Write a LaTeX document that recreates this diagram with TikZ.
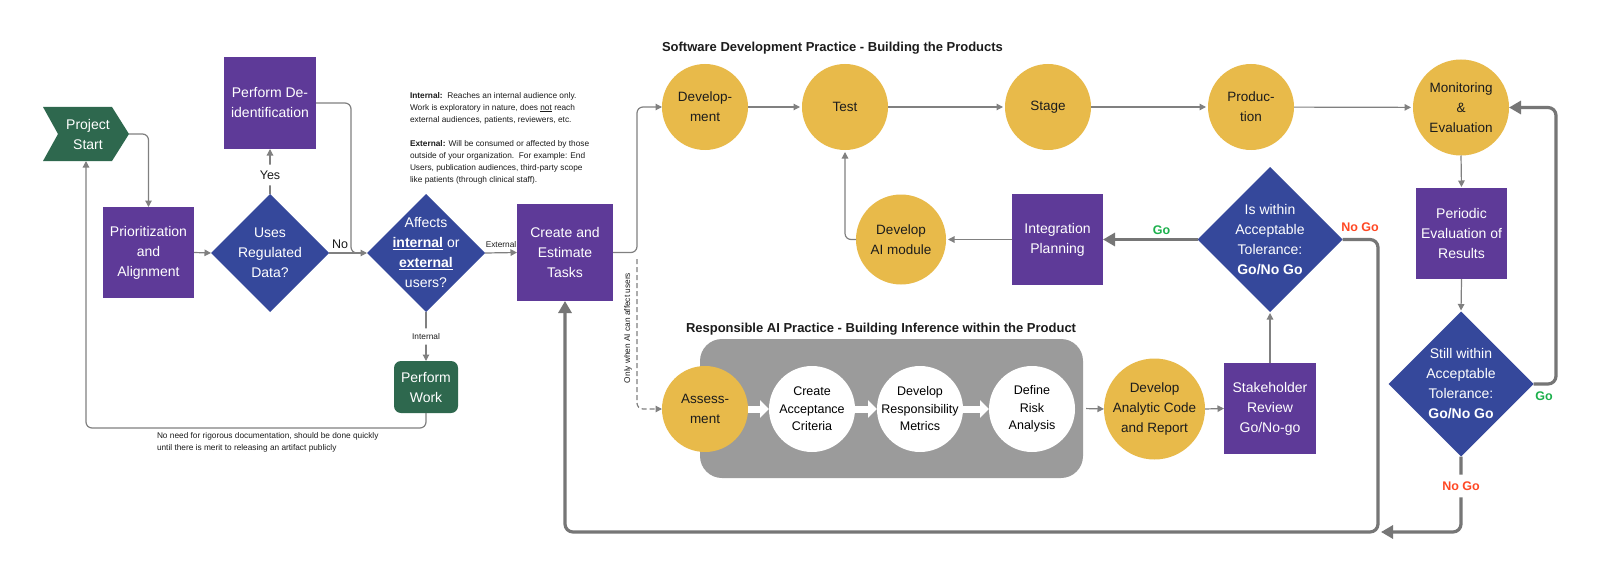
\documentclass[tikz,border=0pt]{standalone}
\usepackage{fontspec}
\setmainfont{Liberation Sans}
\usetikzlibrary{shapes.geometric,arrows.meta,calc}
\definecolor{purpC}{RGB}{94,58,152}
\definecolor{blueC}{RGB}{53,72,155}
\definecolor{greenC}{RGB}{46,104,78}
\definecolor{yelC}{RGB}{232,186,74}
\definecolor{gboxC}{RGB}{155,155,155}
\definecolor{lineC}{RGB}{128,128,128}
\definecolor{bigC}{RGB}{118,118,118}
\definecolor{goC}{RGB}{28,176,76}
\definecolor{nogoC}{RGB}{255,72,36}
\definecolor{txtC}{RGB}{28,28,28}
\begin{document}
\begin{tikzpicture}[x=1pt,y=-1pt,
  every node/.style={inner sep=0pt, outer sep=0pt},
  pbox/.style={fill=purpC, text=white, align=center, font=\fontsize{14}{20}\selectfont},
  wtxt/.style={text=white, align=center, font=\fontsize{14}{20}\selectfont},
  ctxt/.style={text=txtC, align=center, font=\fontsize{13.5}{20}\selectfont},
  stxt/.style={text=black, align=center, font=\fontsize{12.5}{17.5}\selectfont},
  circ/.style={circle, fill=yelC},
  wcirc/.style={circle, fill=white, minimum size=86pt},
  dia/.style={diamond, fill=blueC},
  lbl/.style={text=txtC, font=\fontsize{12.5}{15}\selectfont},
  small/.style={text=txtC, font=\fontsize{8.3}{12}\selectfont},
  ttl/.style={text=txtC, font=\bfseries\fontsize{13}{16}\selectfont},
  golbl/.style={text=goC, font=\bfseries\fontsize{12.5}{15}\selectfont},
  nogolbl/.style={text=nogoC, font=\bfseries\fontsize{12.5}{15}\selectfont},
  conn/.style={draw=lineC, line width=1.2pt, -{Triangle[length=6.5pt,width=6.5pt]}, rounded corners=6pt},
  bigconn/.style={draw=bigC, line width=3.2pt, -{Triangle[length=12pt,width=13pt]}, rounded corners=8pt},
  warr/.style={draw=white, line width=7pt, -{Triangle[length=9pt,width=17pt]}}
]
\fill[white] (0,0) rectangle (1600,583);
\useasboundingbox (0,0) rectangle (1600,583);

% ---------- left part ----------
\fill[greenC] (43,107) -- (112,107) -- (129,134) -- (112,161) -- (43,161) -- (58,134) -- cycle;
\node[wtxt] (ps) at (88,134) {Project\\Start};
\coordinate (psE) at (129,134);
\coordinate (psS) at (86,161);

\node[pbox, minimum width=91pt, minimum height=91pt] (prio) at (148.5,252.5) {Prioritization\\and\\Alignment};
\node[dia, minimum width=118pt, minimum height=118pt] (uses) at (270,253) {};
\node[wtxt] (usesT) at (270,253) {Uses\\Regulated\\Data?};
\node[pbox, minimum width=92pt, minimum height=92pt] (deid) at (270,103) {Perform De-\\identification};
\node[dia, minimum width=118pt, minimum height=118pt] (aff) at (426,253) {};
\node[wtxt] (affT) at (426,253) {Affects\\\underline{\textbf{internal}} or\\\underline{\textbf{external}}\\users?};
\node[fill=greenC, rounded corners=7pt, minimum width=64pt, minimum height=52pt, wtxt] (work) at (426,387) {Perform\\Work};
\node[pbox, minimum width=96pt, minimum height=97pt] (create) at (565,252.5) {Create and\\Estimate\\Tasks};

\node[small, anchor=north west, align=left] (ann) at (410,92) {\textbf{Internal:}\ \ Reaches an internal audience only.\\Work is exploratory in nature, does \underline{not} reach\\external audiences, patients, reviewers, etc.\\[12pt]\textbf{External:} Will be consumed or affected by those\\outside of your organization.\ \ For example: End\\Users, publication audiences, third-party scope\\like patients (through clinical staff).};

\node[small, anchor=north west, align=left] (note) at (157,432) {No need for rigorous documentation, should be done quickly\\until there is merit to releasing an artifact publicly};

\draw[conn] (psE) -| (prio.north);
\draw[conn] (prio.east) -- (uses.west);
\draw[conn] (uses.north) -- node[pos=0.42, fill=white, lbl, inner xsep=2pt, inner ysep=6pt] (yes) {Yes} (deid.south);
\draw[conn] (uses.east) -- (aff.west);
\node[lbl, anchor=south] (no) at (340,249) {No};
\draw[draw=lineC, line width=1.2pt, rounded corners=6pt] (deid.east) -| (351,253) -- (360,253);
\draw[conn] (aff.east) -- node[above=5pt, small] (ext) {External} (create.west);
\draw[conn] (aff.south) -- node[fill=white, small, inner xsep=2pt, inner ysep=5pt] (int) {Internal} (work.north);
\draw[conn] (work.south) -- (426,428) -| (psS);

% ---------- software development ----------
\node[ttl, anchor=west] (t1) at (662,48) {Software Development Practice - Building the Products};
\node[circ, minimum size=86pt] (dev) at (705,107) {};
\node[ctxt] (devT) at (dev) {Develop-\\ment};
\node[circ, minimum size=86pt] (test) at (845,107) {};
\node[ctxt] (testT) at (test) {Test};
\node[circ, minimum size=86pt] (stage) at (1048,107) {};
\node[ctxt] (stageT) at (stage) {Stage};
\node[circ, minimum size=86pt] (prod) at (1251,107) {};
\node[ctxt] (prodT) at (prod) {Produc-\\tion};
\node[circ, minimum size=96pt] (mon) at (1461,107.5) {};
\node[ctxt] (monT) at (mon) {Monitoring\\\&\\Evaluation};
\node[pbox, minimum width=91pt, minimum height=91pt] (per) at (1461.5,233.5) {Periodic\\Evaluation of\\Results};
\node[dia, minimum width=145pt, minimum height=145pt] (still) at (1461,384) {};
\node[wtxt] (stillT) at (still) {Still within\\Acceptable\\Tolerance:\\\textbf{Go/No Go}};
\node[dia, minimum width=145pt, minimum height=145pt] (within) at (1270,239.5) {};
\node[wtxt] (withinT) at (within) {Is within\\Acceptable\\Tolerance:\\\textbf{Go/No Go}};
\node[pbox, minimum width=91pt, minimum height=91pt] (integ) at (1057.5,239.5) {Integration\\Planning};
\node[circ, minimum size=90pt] (devai) at (901,239.5) {};
\node[ctxt] (devaiT) at (devai) {Develop\\AI module};

% ---------- responsible AI ----------
\node[ttl, anchor=west] (t2) at (686,329) {Responsible AI Practice - Building Inference within the Product};
\node[fill=gboxC, rounded corners=22pt, minimum width=383pt, minimum height=139pt] (gbox) at (891.5,408.5) {};
\node[circ, minimum size=86pt] (assess) at (705,409) {};
\node[ctxt] (assessT) at (assess) {Assess-\\ment};
\node[wcirc] (crit) at (812,409) {};
\node[stxt] (critT) at (crit) {Create\\Acceptance\\Criteria};
\node[wcirc] (metr) at (920,409) {};
\node[stxt] (metrT) at (metr) {Develop\\Responsibility\\Metrics};
\node[wcirc] (risk) at (1032,409) {};
\node[stxt] (riskT) at (risk) {Define\\Risk\\Analysis};
\node[circ, minimum size=101pt] (analytic) at (1154.5,409) {};
\node[ctxt] (analyticT) at (analytic) {Develop\\Analytic Code\\and Report};
\node[pbox, minimum width=92pt, minimum height=91pt] (stake) at (1270,408.5) {Stakeholder\\Review\\Go/No-go};

\draw[warr] (assess.east) -- (crit.west);
\draw[warr] (crit.east) -- (metr.west);
\draw[warr] (metr.east) -- (risk.west);

% ---------- connectors ----------
\draw[conn] (create.east) -- (637,252.5) |- (dev.west);
\coordinate (dashS) at (637,259);
\draw[conn, dash pattern=on 5pt off 3pt] (dashS) |- (assess.west);
\node[small, rotate=90] (only) at (628,328) {Only when AI can affect users};

\draw[conn, shorten >=2pt] (dev) -- (test);
\draw[conn, shorten >=2pt] (test) -- (stage);
\draw[conn, shorten >=2pt] (stage) -- (prod);
\draw[conn, shorten >=2pt] (prod) -- (mon);
\draw[conn, shorten >=1pt] (mon.south) -- (per.north);
\draw[conn, shorten >=1pt] (per.south) -- (still.north);

\draw[bigconn] (within.west) -- node[pos=0.38, above=5pt, golbl] (go1) {Go} (integ.east);
\draw[conn, shorten >=2pt] (integ.west) -- (devai.east);
\draw[conn, shorten >=2pt] (devai.west) -| (test.south);
\draw[conn, shorten >=1pt] (stake.north) -- (within.south);
\draw[conn] (analytic.east) -- (stake.west);
\draw[conn, shorten <=3pt] (gbox.east) -- (analytic.west);

\draw[bigconn] (within.east) -- (1378,239.5) -- (1378,532) -- (565,532) -- (create.south);
\node[nogolbl] (ng1) at (1360,227) {No Go};

\draw[bigconn] (still.east) -- (1556,384) |- (mon.east);
\node[golbl] (go2) at (1544,396) {Go};
\coordinate (jn) at (1381,532);
\draw[bigconn] (still.south) -- node[pos=0.39, fill=white, nogolbl, inner xsep=2pt, inner ysep=7pt] (ng2) {No Go} (1461,532) -- (jn);
\end{tikzpicture}
\end{document}
